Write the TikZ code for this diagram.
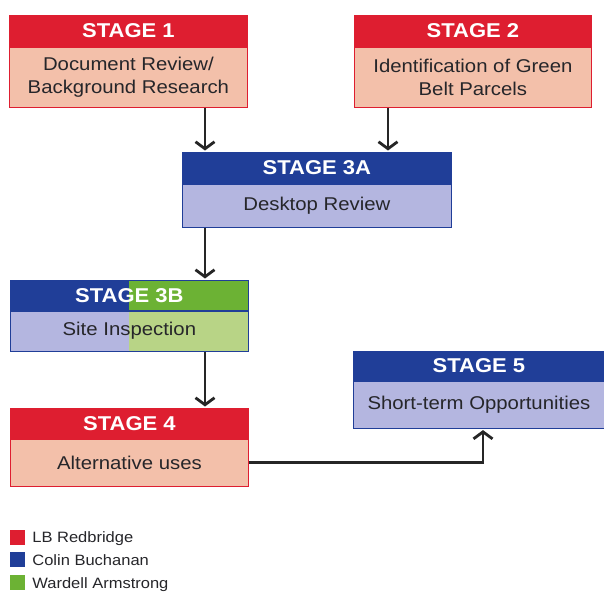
\documentclass[tikz,border=0pt]{standalone}
\usepackage{fontspec}
\setmainfont{Liberation Sans}[FakeStretch=1.1]
\usepackage{tikz}
\usetikzlibrary{calc, arrows.meta, positioning}
\definecolor{stagered}{RGB}{222,30,48}
\definecolor{stagesalmon}{RGB}{243,192,170}
\definecolor{stageblue}{RGB}{32,62,152}
\definecolor{stagelilac}{RGB}{180,182,224}
\definecolor{stagegreen}{RGB}{108,178,52}
\definecolor{stagelime}{RGB}{184,212,134}
\definecolor{bodytext}{RGB}{38,38,42}

\begin{document}
\begin{tikzpicture}[
        x=1pt, y=1pt,
        head/.style = {rectangle, anchor=north west, inner sep=0pt, minimum width=238pt, minimum height=31pt, text=white, font=\bfseries\fontsize{20}{24}\selectfont, line width=0.8pt},
        body/.style = {rectangle, inner sep=0pt, minimum width=238pt, align=center, text=bodytext, font=\fontsize{18.5}{23}\selectfont, line width=0.8pt},
        redhead/.style = {head, fill=stagered, draw=stagered},
        redbody/.style = {body, fill=stagesalmon, draw=stagered},
        bluehead/.style = {head, fill=stageblue, draw=stageblue},
        bluebody/.style = {body, fill=stagelilac, draw=stageblue},
        splithead/.style = {bluehead, path picture={\fill[stagegreen] ($(path picture bounding box.south west)!0.5!(path picture bounding box.south east)$) rectangle (path picture bounding box.north east);}},
        splitbody/.style = {bluebody, path picture={\fill[stagelime] ($(path picture bounding box.south west)!0.5!(path picture bounding box.south east)$) rectangle (path picture bounding box.north east);}},
        legkey/.style = {rectangle, inner sep=0pt, minimum size=15pt},
        legtext/.style = {inner sep=0pt, text height=10.8pt, text depth=0pt, text=bodytext, font=\fontsize{15}{18}\selectfont},
        arrow/.style = {draw=black!85, line width=2.8pt, -{Straight Barb[length=7pt, width=19pt]}, shorten >=1.5pt}
    ]
        \useasboundingbox[fill=white] (0,0) rectangle (604,-595);

        % Stage 1 and Stage 2
        \node (s1head) [redhead] at (9,-15) {STAGE 1};
        \node (s1body) [redbody, minimum height=60pt, below=0pt of s1head] {Document Review/\\Background Research};
        \node (s2head) [redhead, minimum width=237pt] at (354,-15) {STAGE 2};
        \node (s2body) [redbody, minimum width=237pt, minimum height=60pt, below=0pt of s2head] {Identification of Green\\Belt Parcels};

        % Stage 3A
        \node (s3ahead) [bluehead, minimum width=269pt] at (182,-152) {STAGE 3A};
        \node (s3abody) [bluebody, minimum width=269pt, minimum height=43pt, below=0pt of s3ahead] {Desktop Review};

        % Stage 3B
        \node (s3bhead) [splithead, minimum height=30pt] at (10,-280) {STAGE 3B};
        \node (s3bbody) [splitbody, minimum height=40pt, below=0pt of s3bhead] {Site Inspection};

        % Stage 4 and Stage 5
        \node (s4head) [redhead, minimum height=30pt] at (10,-408) {STAGE 4};
        \node (s4body) [redbody, minimum height=47pt, below=0pt of s4head] {Alternative uses};
        \node (s5head) [bluehead, minimum width=251pt, minimum height=29pt] at (353,-351) {STAGE 5};
        \node (s5body) [bluebody, minimum width=251pt, minimum height=47pt, below=0pt of s5head] {Short-term Opportunities};

        % Arrows
        \coordinate (leftcol) at (205,0);
        \coordinate (rightcol) at (388,0);
        \coordinate (stage5col) at (483,0);
        \draw [arrow] (s1body.south -| leftcol) -- (s3ahead.north -| leftcol);
        \draw [arrow] (s2body.south -| rightcol) -- (s3ahead.north -| rightcol);
        \draw [arrow] (s3abody.south -| leftcol) -- (s3bhead.north -| leftcol);
        \draw [arrow] (s3bbody.south -| leftcol) -- (s4head.north -| leftcol);
        \draw [arrow] (s4body.east) -| (s5body.south -| stage5col);

        % Legend
        \node (legred) [legkey, fill=stagered] at (17.5,-537) {};
        \node (legblue) [legkey, fill=stageblue, below=7.5pt of legred] {};
        \node (leggreen) [legkey, fill=stagegreen, below=7.5pt of legblue] {};
        \node (legredtxt) [legtext, right=7pt of legred] {LB Redbridge};
        \node (legbluetxt) [legtext, right=7pt of legblue] {Colin Buchanan};
        \node (leggreentxt) [legtext, right=7pt of leggreen] {Wardell Armstrong};

\end{tikzpicture}
\end{document}
